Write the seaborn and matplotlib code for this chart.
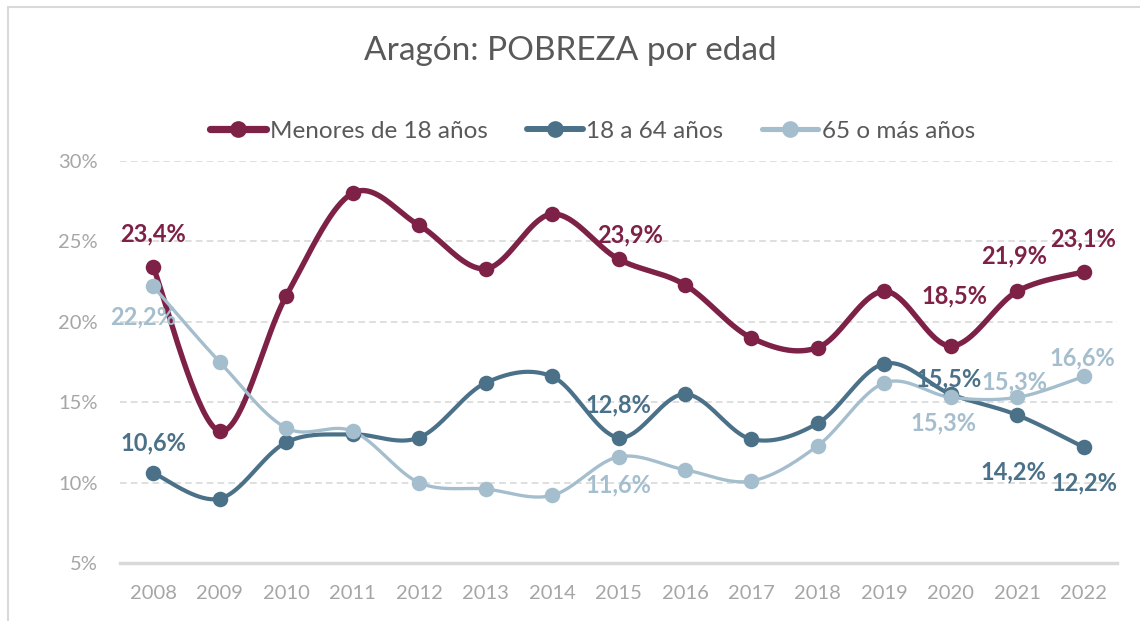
import numpy as np
import pandas as pd
import matplotlib
matplotlib.use("Agg")
import matplotlib.pyplot as plt
from matplotlib.lines import Line2D
import seaborn as sns

years = [2008, 2009, 2010, 2011, 2012, 2013, 2014, 2015, 2016, 2017, 2018, 2019, 2020, 2021, 2022]
menores = [23.4, 13.2, 21.6, 28.0, 26.0, 23.3, 26.7, 23.9, 22.3, 19.0, 18.4, 21.9, 18.5, 21.9, 23.1]
adultos = [10.6, 9.0, 12.5, 13.0, 12.8, 16.2, 16.6, 12.8, 15.5, 12.7, 13.7, 17.4, 15.5, 14.2, 12.2]
mayores = [22.2, 17.5, 13.4, 13.2, 10.0, 9.6, 9.2, 11.6, 10.8, 10.1, 12.3, 16.2, 15.3, 15.3, 16.6]
series_names = ["Menores de 18 años", "18 a 64 años", "65 o más años"]
y_ticks = [5, 10, 15, 20, 25, 30]
title = "Aragón: POBREZA por edad"

colors = ["#7E2146", "#4B7189", "#A5BECE"]
widths = [3.9, 3.0, 2.4]

sns.set_theme(style="white")
plt.rcParams["font.family"] = ["Lato", "DejaVu Sans"]

fig = plt.figure(figsize=(11.4, 6.21), dpi=100)
ax = fig.add_axes([120 / 1140, 1 - 563 / 621, (1117 - 120) / 1140, (563 - 161) / 621])


def catmull(xs, ys, n=40):
    xs = np.asarray(xs, float)
    ys = np.asarray(ys, float)
    px = np.concatenate([[xs[0]], xs, [xs[-1]]])
    py = np.concatenate([[ys[0]], ys, [ys[-1]]])
    ox, oy = [], []
    t = np.linspace(0, 1, n)
    for i in range(1, len(px) - 2):
        p0 = np.array([px[i], py[i]])
        p3 = np.array([px[i + 1], py[i + 1]])
        c1 = p0 + (np.array([px[i + 1], py[i + 1]]) - np.array([px[i - 1], py[i - 1]])) / 6
        c2 = p3 - (np.array([px[i + 2], py[i + 2]]) - np.array([px[i], py[i]])) / 6
        pts = ((1 - t) ** 3)[:, None] * p0 + (3 * (1 - t) ** 2 * t)[:, None] * c1 \
            + (3 * (1 - t) * t ** 2)[:, None] * c2 + (t ** 3)[:, None] * p3
        ox.extend(pts[:, 0])
        oy.extend(pts[:, 1])
    return ox, oy


all_vals = [menores, adultos, mayores]
for name, vals, c, lw in zip(series_names, all_vals, colors, widths):
    sx, sy = catmull(years, vals)
    dense = pd.DataFrame({"x": sx, "y": sy})
    sns.lineplot(data=dense, x="x", y="y", sort=False, estimator=None, color=c,
                 linewidth=lw, ax=ax, zorder=3, solid_capstyle="round")
    pts = pd.DataFrame({"x": years, "y": vals})
    sns.scatterplot(data=pts, x="x", y="y", color=c, s=125, edgecolor=c,
                    linewidth=0, ax=ax, zorder=4)

ax.set_xlim(2007.5, 2022.5)
ax.set_ylim(5, 30)
ax.set_yticks(y_ticks)
ax.set_yticklabels([f"{v}%" for v in y_ticks])
ax.set_xticks(years)
ax.set_xticklabels([str(y) for y in years])
ax.set_xlabel("")
ax.set_ylabel("")
for s in ["top", "right", "left"]:
    ax.spines[s].set_visible(False)
ax.spines["bottom"].set_color("#D9D9D9")
ax.spines["bottom"].set_linewidth(2.5)
ax.tick_params(axis="both", length=0, labelsize=14.5, colors="#A6A6A6")
ax.tick_params(axis="x", pad=16)
ax.tick_params(axis="y", pad=16)
for yt in y_ticks[1:]:
    ax.axhline(yt, color="#D9D9D9", linestyle=(0, (4, 2.5)), linewidth=1.2, zorder=1)


def fmt(v):
    return f"{v:.1f}%".replace(".", ",")


# labels: (series index, year, dx, dy) in pixels
labels = [
    (0, 2008, 0, 33), (0, 2015, 12, 24), (0, 2020, 4, 50), (0, 2021, -3, 35), (0, 2022, -1, 33),
    (1, 2008, 0, 30), (1, 2015, 0, 33), (1, 2020, -2, 15), (1, 2021, -4, -57), (1, 2022, 1, -36),
    (2, 2008, -10, -30), (2, 2015, 0, -28), (2, 2020, -7, -26), (2, 2021, -3, 15), (2, 2022, -1, 19),
]
for si, yr, dx, dy in labels:
    v = all_vals[si][years.index(yr)]
    ax.annotate(fmt(v), (yr, v), xytext=(dx, dy), textcoords="offset pixels",
                ha="center", va="center", fontsize=17, fontweight="bold",
                color=colors[si], zorder=6)

handles = [Line2D([0], [0], color=c, lw=lw + 1.3, marker="o", markersize=11)
           for c, lw in zip(colors, widths)]
fig.legend(handles, series_names, loc="center", bbox_to_anchor=(0.52, 1 - 131 / 621),
           ncol=3, frameon=False, fontsize=17.5, labelcolor="#595959",
           handlelength=2.3, handletextpad=0.15, columnspacing=1.6)

fig.text(0.5, 1 - 51 / 621, title, ha="center", va="center", fontsize=24, color="#595959")

fig.add_artist(Line2D([8 / 1140, 8 / 1140], [0, 1 - 7 / 621], color="#D9D9D9", lw=1.5))
fig.add_artist(Line2D([8 / 1140, 1], [1 - 7 / 621, 1 - 7 / 621], color="#D9D9D9", lw=1.5))

fig.savefig("out.png", dpi=100, facecolor="white")
